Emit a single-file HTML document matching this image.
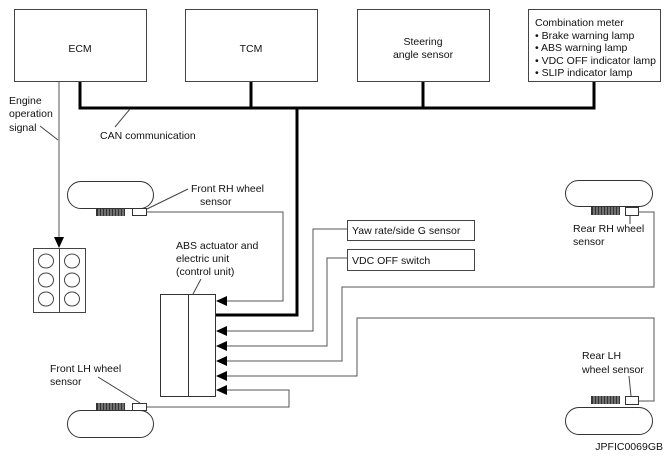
<!DOCTYPE html>
<html><head><style>
html,body{margin:0;padding:0;background:#fff;}
svg{display:block;}
text{font-family:"Liberation Sans",Arial,sans-serif;font-size:10.5px;fill:#111;}
</style></head><body>
<svg width="670" height="458" viewBox="0 0 670 458" xmlns="http://www.w3.org/2000/svg">
<g fill="#fff" stroke="#444" stroke-width="1">
<rect x="14.5" y="9.5" width="132" height="72"/>
<rect x="185.5" y="9.5" width="132" height="72"/>
<rect x="357.5" y="9.5" width="132" height="72"/>
<rect x="528.5" y="9.5" width="132" height="72"/>
</g>
<text x="80" y="52" text-anchor="middle">ECM</text>
<text x="251" y="52" text-anchor="middle">TCM</text>
<text x="423" y="45" text-anchor="middle">Steering</text>
<text x="423" y="58" text-anchor="middle">angle sensor</text>
<g font-size="10">
<text x="535" y="26" font-size="10">Combination meter</text>
<text x="535" y="39" font-size="10">• Brake warning lamp</text>
<text x="535" y="51" font-size="10">• ABS warning lamp</text>
<text x="535" y="64" font-size="10">• VDC OFF indicator lamp</text>
<text x="535" y="76" font-size="10">• SLIP indicator lamp</text>
</g>
<g stroke="#000" stroke-width="3" fill="none">
<polyline points="80,82 80,108 594,108 594,82"/>
<line x1="251" y1="82" x2="251" y2="108"/>
<line x1="423" y1="82" x2="423" y2="108"/>
<polyline points="297,108 297,315 216,315"/>
</g>
<text x="100" y="139">CAN communication</text>
<line x1="130" y1="109" x2="115" y2="127" stroke="#444"/>
<text x="9" y="104">Engine</text>
<text x="9" y="117">operation</text>
<text x="9" y="131">signal</text>
<line x1="40" y1="126" x2="58" y2="140" stroke="#444"/>
<line x1="59" y1="82" x2="59" y2="240" stroke="#555"/>
<path d="M59,248 l-5,-11 l10,0 z" fill="#000"/>
<g stroke="#444" fill="none">
<rect x="33.5" y="248.5" width="52" height="64"/>
<line x1="59.5" y1="249" x2="59.5" y2="312"/>
<ellipse cx="46" cy="261" rx="7.5" ry="7"/><ellipse cx="72" cy="261" rx="7.5" ry="7"/>
<ellipse cx="46" cy="280" rx="7.5" ry="7"/><ellipse cx="72" cy="280" rx="7.5" ry="7"/>
<ellipse cx="46" cy="299" rx="7.5" ry="7"/><ellipse cx="72" cy="299" rx="7.5" ry="7"/>
</g>
<g stroke="#333" fill="#fff">
<rect x="67.5" y="181.5" width="86" height="27" rx="13.5"/>
<rect x="67.5" y="410.5" width="86" height="27" rx="13.5"/>
<rect x="565.5" y="180.5" width="87" height="26" rx="13"/>
<rect x="565.5" y="407.5" width="87" height="27" rx="13.5"/>
<rect x="132.5" y="208.5" width="14" height="7"/>
<rect x="132.5" y="403.5" width="14" height="7"/>
<rect x="625.5" y="207.5" width="13" height="8"/>
<rect x="625.5" y="396.5" width="13" height="8"/>
</g>
<g fill="#333">
<rect x="96" y="209" width="29" height="7"/>
<rect x="96" y="403" width="29" height="7"/>
<rect x="591" y="207" width="29" height="8"/>
<rect x="591" y="396" width="29" height="8"/>
</g>
<g stroke="#ccc" stroke-width="0.8">
<path d="M99,209v7M102,209v7M105,209v7M108,209v7M111,209v7M114,209v7M117,209v7M120,209v7M123,209v7"/>
<path d="M99,403v7M102,403v7M105,403v7M108,403v7M111,403v7M114,403v7M117,403v7M120,403v7M123,403v7"/>
<path d="M594,207v8M597,207v8M600,207v8M603,207v8M606,207v8M609,207v8M612,207v8M615,207v8M618,207v8"/>
<path d="M594,396v8M597,396v8M600,396v8M603,396v8M606,396v8M609,396v8M612,396v8M615,396v8M618,396v8"/>
</g>
<g stroke="#333" fill="#fff">
<rect x="160.5" y="294.5" width="55" height="102"/>
<line x1="188.5" y1="295" x2="188.5" y2="396"/>
</g>
<g stroke="#555" fill="none">
<polyline points="147,212 283,212 283,301 226,301"/>
<polyline points="147,407 289,407 289,390 226,390"/>
<polyline points="348,229 313,229 313,331 226,331"/>
<polyline points="348,258 327,258 327,346 226,346"/>
<polyline points="639,212 654,212 654,287 342,287 342,361 226,361"/>
<polyline points="639,401 654,401 654,318 357,318 357,376 226,376"/>
</g>
<g fill="#000">
<path d="M216,301 l11,-5 v10z"/>
<path d="M216,331 l11,-5 v10z"/>
<path d="M216,346 l11,-5 v10z"/>
<path d="M216,361 l11,-5 v10z"/>
<path d="M216,376 l11,-5 v10z"/>
<path d="M216,390 l11,-5 v10z"/>
</g>
<g stroke="#444" fill="#fff">
<rect x="347.5" y="220.5" width="127" height="20"/>
<rect x="347.5" y="249.5" width="127" height="21"/>
</g>
<text x="352" y="234">Yaw rate/side G sensor</text>
<text x="352" y="264">VDC OFF switch</text>
<text x="191" y="192">Front RH wheel</text>
<text x="200" y="205">sensor</text>
<line x1="147" y1="209" x2="188" y2="189" stroke="#444"/>
<text x="176" y="249">ABS actuator and</text>
<text x="176" y="262">electric unit</text>
<text x="176" y="275">(control unit)</text>
<line x1="201" y1="279" x2="193" y2="294" stroke="#444"/>
<text x="50" y="372">Front LH wheel</text>
<text x="50" y="385">sensor</text>
<line x1="98" y1="377" x2="140" y2="403" stroke="#444"/>
<text x="573" y="232">Rear RH wheel</text>
<text x="573" y="245">sensor</text>
<line x1="630" y1="215" x2="630" y2="224" stroke="#444"/>
<text x="582" y="359">Rear LH</text>
<text x="582" y="373">wheel sensor</text>
<line x1="629" y1="376" x2="631" y2="396" stroke="#444"/>
<text x="663" y="450" font-size="7" text-anchor="end">JPFIC0069GB</text>
</svg>
</body></html>
